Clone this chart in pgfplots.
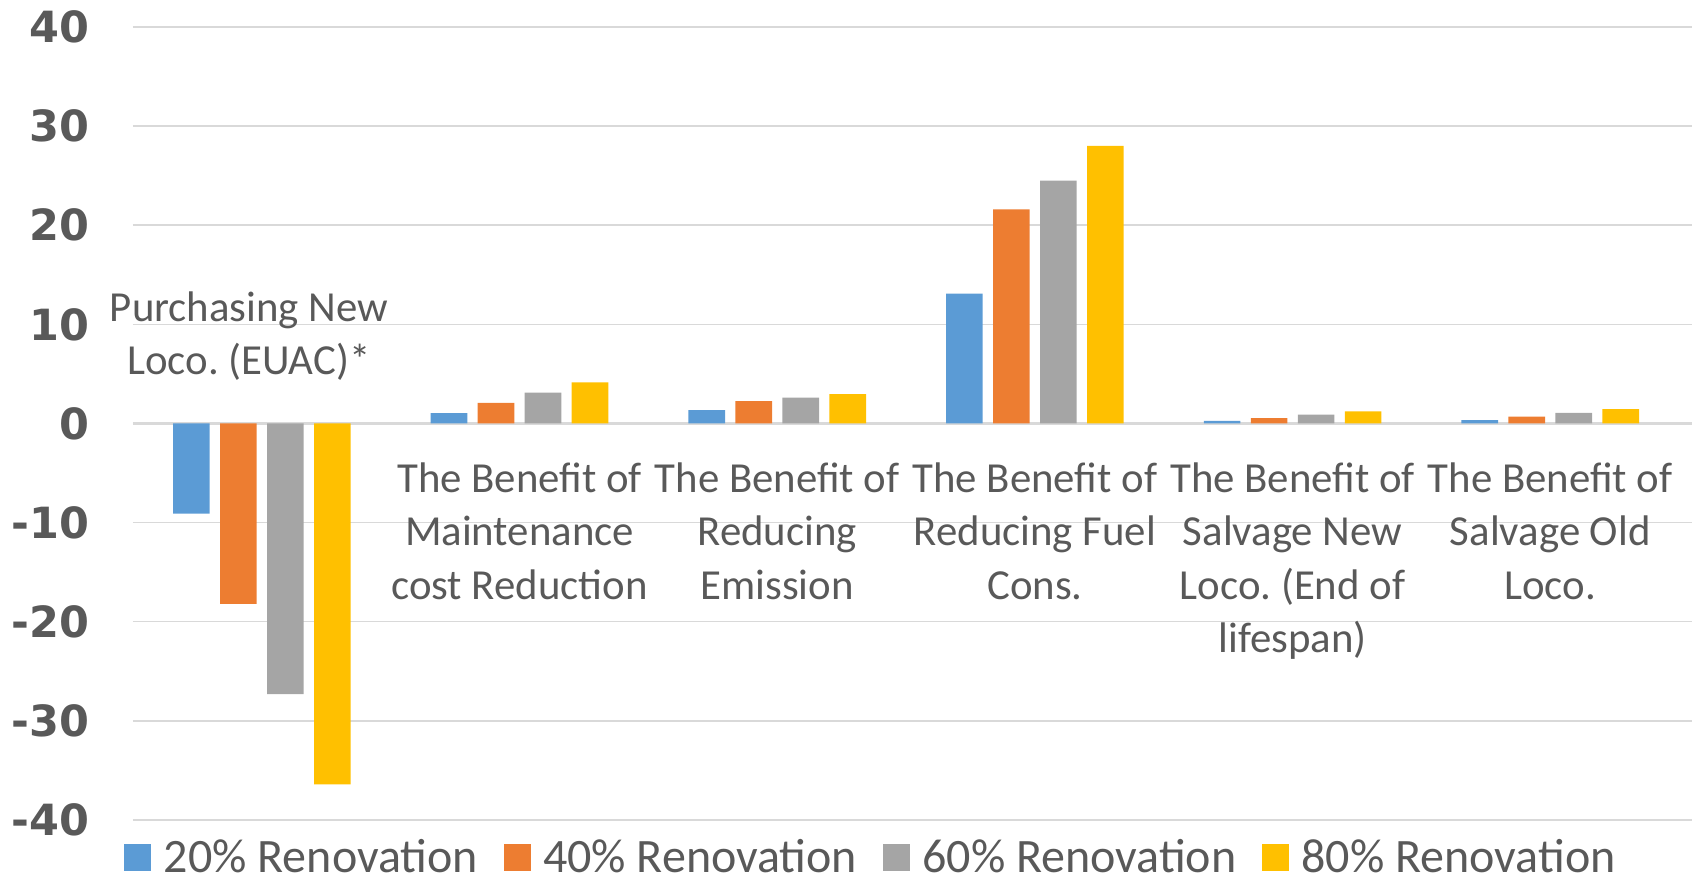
\documentclass[border=0pt]{standalone}
\usepackage{fontspec}
\setmainfont{Carlito}
\newfontfamily\tickfont{DejaVu Sans}
\usepackage{pgfplots}
\pgfplotsset{compat=1.18}
\frenchspacing
\definecolor{cBlue}{HTML}{5B9BD5}
\definecolor{cOrange}{HTML}{ED7D31}
\definecolor{cGray}{HTML}{A5A5A5}
\definecolor{cYellow}{HTML}{FFC000}
\definecolor{txt}{HTML}{595959}
\definecolor{gridc}{HTML}{D9D9D9}
\pgfplotsset{sq/.style={legend image code/.code={\fill[##1] (0pt,-7pt) rectangle (13.5pt,6.5pt); \path (17.8pt,0pt);}}}
\begin{document}
\frenchspacing
\begin{tikzpicture}
\begin{axis}[name=ax, scale only axis, width=779.5pt, height=396.5pt,
 xmin=-0.5, xmax=5.55, ymin=-40, ymax=40,
 ytick={-40,-30,...,40},
 xtick={1,2,3,4,5},
 xticklabels={{The Benefit of\\Maintenance\\cost Reduction},{The Benefit of\\Reducing\\Emission},{The Benefit of\\Reducing Fuel\\Cons.},{The Benefit of\\Salvage New\\Loco.\ (End of\\lifespan)},{The Benefit of\\Salvage Old\\Loco.}},
 extra x ticks={-0.05},
 extra x tick labels={{Purchasing New\\Loco.\ (EUAC)*}},
 extra x tick style={xmajorgrids=false, xticklabel style={anchor=south, yshift=34pt}},
 xticklabel style={align=center, font=\fontsize{21.4}{26.6}\selectfont, text=txt, anchor=north, yshift=182pt},
 ymajorgrids, major grid style={draw=gridc, line width=0.75pt},
 axis line style={draw=none}, major tick length=0pt,
 ybar=5.2pt, bar width=18.3pt,
 /pgf/number format/assume math mode=true,
 yticklabel style={font=\tickfont\bfseries\fontsize{21.5}{26}\selectfont, text=txt, xshift=-18.5pt},
 legend columns=4,
 legend style={at={(0.474,-0.047)}, anchor=center, draw=none, fill=none, inner ysep=0pt, nodes={inner ysep=0pt}, font=\fontsize{24}{29}\selectfont, text=txt, /tikz/every even column/.append style={column sep=10.8pt}},
]
\draw[gridc, line width=1.2pt] (axis cs:-0.5,0) -- (axis cs:5.55,0);
\addplot[fill=cBlue, draw=none, sq] coordinates {(0,-9.1) (1,1.04) (2,1.34) (3,13.1) (4,0.26) (5,0.33)};
\addplot[fill=cOrange, draw=none, sq] coordinates {(0,-18.2) (1,2.08) (2,2.26) (3,21.6) (4,0.53) (5,0.70)};
\addplot[fill=cGray, draw=none, sq] coordinates {(0,-27.3) (1,3.12) (2,2.6) (3,24.5) (4,0.9) (5,1.07)};
\addplot[fill=cYellow, draw=none, sq] coordinates {(0,-36.4) (1,4.16) (2,2.97) (3,28.0) (4,1.23) (5,1.44)};
\legend{20\% Renovation, 40\% Renovation, 60\% Renovation, 80\% Renovation}
\end{axis}
\pgfresetboundingbox
\path ([shift={(-66.5pt,-28.5pt)}]ax.south west) rectangle ([shift={(0pt,13.5pt)}]ax.north east);
\end{tikzpicture}
\end{document}
